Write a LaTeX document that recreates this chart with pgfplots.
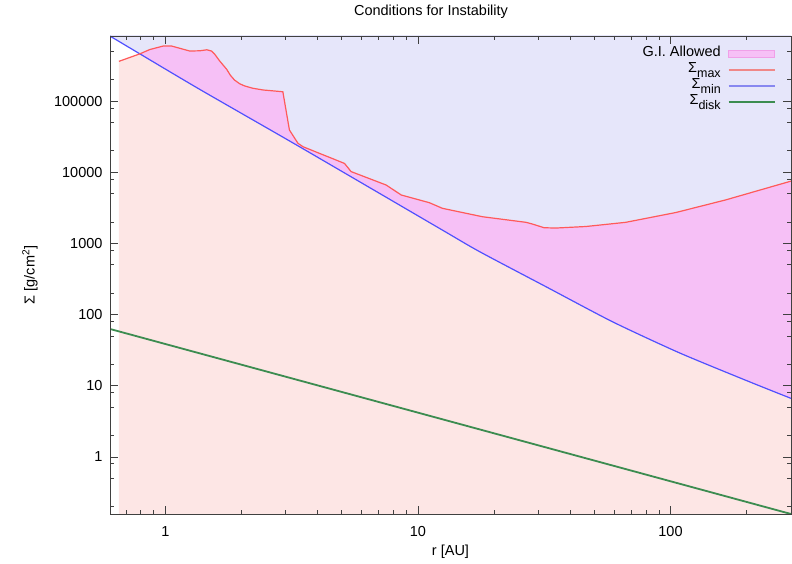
\documentclass[border=0pt]{standalone}
\usepackage{pgfplots}
\pgfplotsset{compat=1.18}
\usepgfplotslibrary{fillbetween}
\usepackage{fontspec}
\setmainfont{Liberation Sans}
\definecolor{lav}{HTML}{E6E6FA}
\definecolor{mrose}{HTML}{FDE6E5}
\definecolor{gifill}{HTML}{F6C0F6}
\definecolor{gidraw}{HTML}{F0A0E8}
\definecolor{redl}{HTML}{FF5A5A}
\definecolor{bluel}{HTML}{5050FF}
\definecolor{greenl}{HTML}{3C8C50}
\definecolor{redleg}{HTML}{F08888}
\definecolor{blueleg}{HTML}{8888F0}
\definecolor{axgray}{HTML}{404040}
\newcommand\sub[1]{\raisebox{-0.6ex}{\fontsize{12.5}{12.5}\selectfont #1}}
\begin{document}
\begin{tikzpicture}[x=1pt,y=1pt]
\begin{axis}[
  at={(0,0)}, anchor=south west,
  scale only axis, width=681pt, height=478pt,
  xmode=log, ymode=log,
  xmin=0.604, xmax=300, ymin=0.158, ymax=8.2e5,
  xtick={1,10,100}, xticklabels={1,10,100},
  ytick={1,10,100,1000,10000,100000},
  yticklabels={1,10,100,1000,10000,100000},
  minor xtick={0.7,0.8,0.9,2,3,4,5,6,7,8,9,20,30,40,50,60,70,80,90,200},
  minor ytick={0.2,0.5,0.8,2,5,8,20,50,80,200,500,800,2000,5000,8000,20000,50000,80000,200000,500000,800000},
  major tick length=8pt, minor tick length=4pt,
  tick style={color=axgray, line width=0.8pt},
  axis line style={color=axgray, line width=0.9pt},
  axis on top,
  font=\fontsize{14.5}{17}\selectfont,
  xticklabel style={anchor=center, yshift=-18pt},
  yticklabel style={anchor=east, xshift=-4pt},
  xlabel={r [AU]},
  xlabel style={at={(axis description cs:0.5,0)}, anchor=center, yshift=-38pt},
  legend style={at={(0.982,0.984)}, anchor=north east, draw=none, fill=none,
    font=\fontsize{14.5}{17}\selectfont, row sep=0pt, column sep=6pt,
    nodes={inner sep=1pt, text height=10pt, text depth=4pt}},
  legend cell align=right,
  legend plot pos=right,
  legend image code/.code={\draw[#1] (0pt,0pt) -- (46pt,0pt);},
]
% Sigma_min
\addplot[bluel, line width=1.2pt, smooth, tension=0.4, name path=minp, forget plot] table {
0.604 8.18e5
0.793 4.6e5
1.368 1.46e5
3.40 2.28e4
12.16 1630
17.5 770
32.1 247
58.9 79.4
108 29.2
198 12.0
300 6.65
};
% Sigma_max
\addplot[redl, line width=1.2pt, name path=maxp, forget plot] table {
0.655 3.61e5
0.793 4.6e5
0.868 5.29e5
0.98 5.92e5
1.06 5.92e5
1.25 5.04e5
1.37 5.08e5
1.46 5.25e5
1.523 5.04e5
1.57 4.53e5
1.642 3.65e5
1.75 2.79e5
1.810 2.30e5
1.88 1.97e5
1.970 1.75e5
2.06 1.63e5
2.223 1.51e5
2.44 1.43e5
2.92 1.35e5
3.10 3.92e4
3.35 2.55e4
3.51 2.28e4
5.12 1.33e4
5.44 1.02e4
7.49 6607
8.59 4786
11.1 3733
12.5 3112
18.0 2371
26.8 1978
28.4 1871
31.6 1660
35.2 1644
46.2 1727
66.5 1978
105 2716
165 4074
300 7500
};
% Sigma_min restricted to r >= crossing (for G.I. fill)
\addplot[draw=none, smooth, tension=0.4, name path=minr, forget plot] table {
0.793 4.6e5
1.368 1.46e5
3.40 2.28e4
12.16 1630
17.5 770
32.1 247
58.9 79.4
108 29.2
198 12.0
300 6.65
};
\addplot[draw=none, name path=topp, forget plot] coordinates {(0.5,2e6) (400,2e6)};
\addplot[draw=none, name path=botp, forget plot] coordinates {(0.655,0.05) (400,0.05)};
\addplot[lav, forget plot] fill between[of=topp and minp];
\addplot[mrose, forget plot] fill between[of=maxp and botp];
\addplot[gifill, forget plot] fill between[of=maxp and minr];
% Sigma_disk
\addplot[greenl, line width=1.8pt, forget plot] table {
0.604 62.8
300 0.158
};
\addlegendimage{legend image code/.code={\filldraw[fill=gifill,draw=gidraw,line width=0.8pt] (0pt,-3.5pt) rectangle (46pt,3.5pt);}}
\addlegendentry{G.I. Allowed}
\addlegendimage{redleg, line width=1.4pt}
\addlegendentry{Σ\sub{max}}
\addlegendimage{blueleg, line width=1.4pt}
\addlegendentry{Σ\sub{min}}
\addlegendimage{greenl, line width=1.8pt}
\addlegendentry{Σ\sub{disk}}
\end{axis}
\node[font=\fontsize{14.5}{17}\selectfont] at (321,502) {Conditions for Instability};
\node[font=\fontsize{14.5}{17}\selectfont, rotate=90, anchor=center] at (-80,239) {Σ [g/cm\textsuperscript{2}]};
\path (-110,-50) rectangle (682,514);
\end{tikzpicture}
\end{document}
